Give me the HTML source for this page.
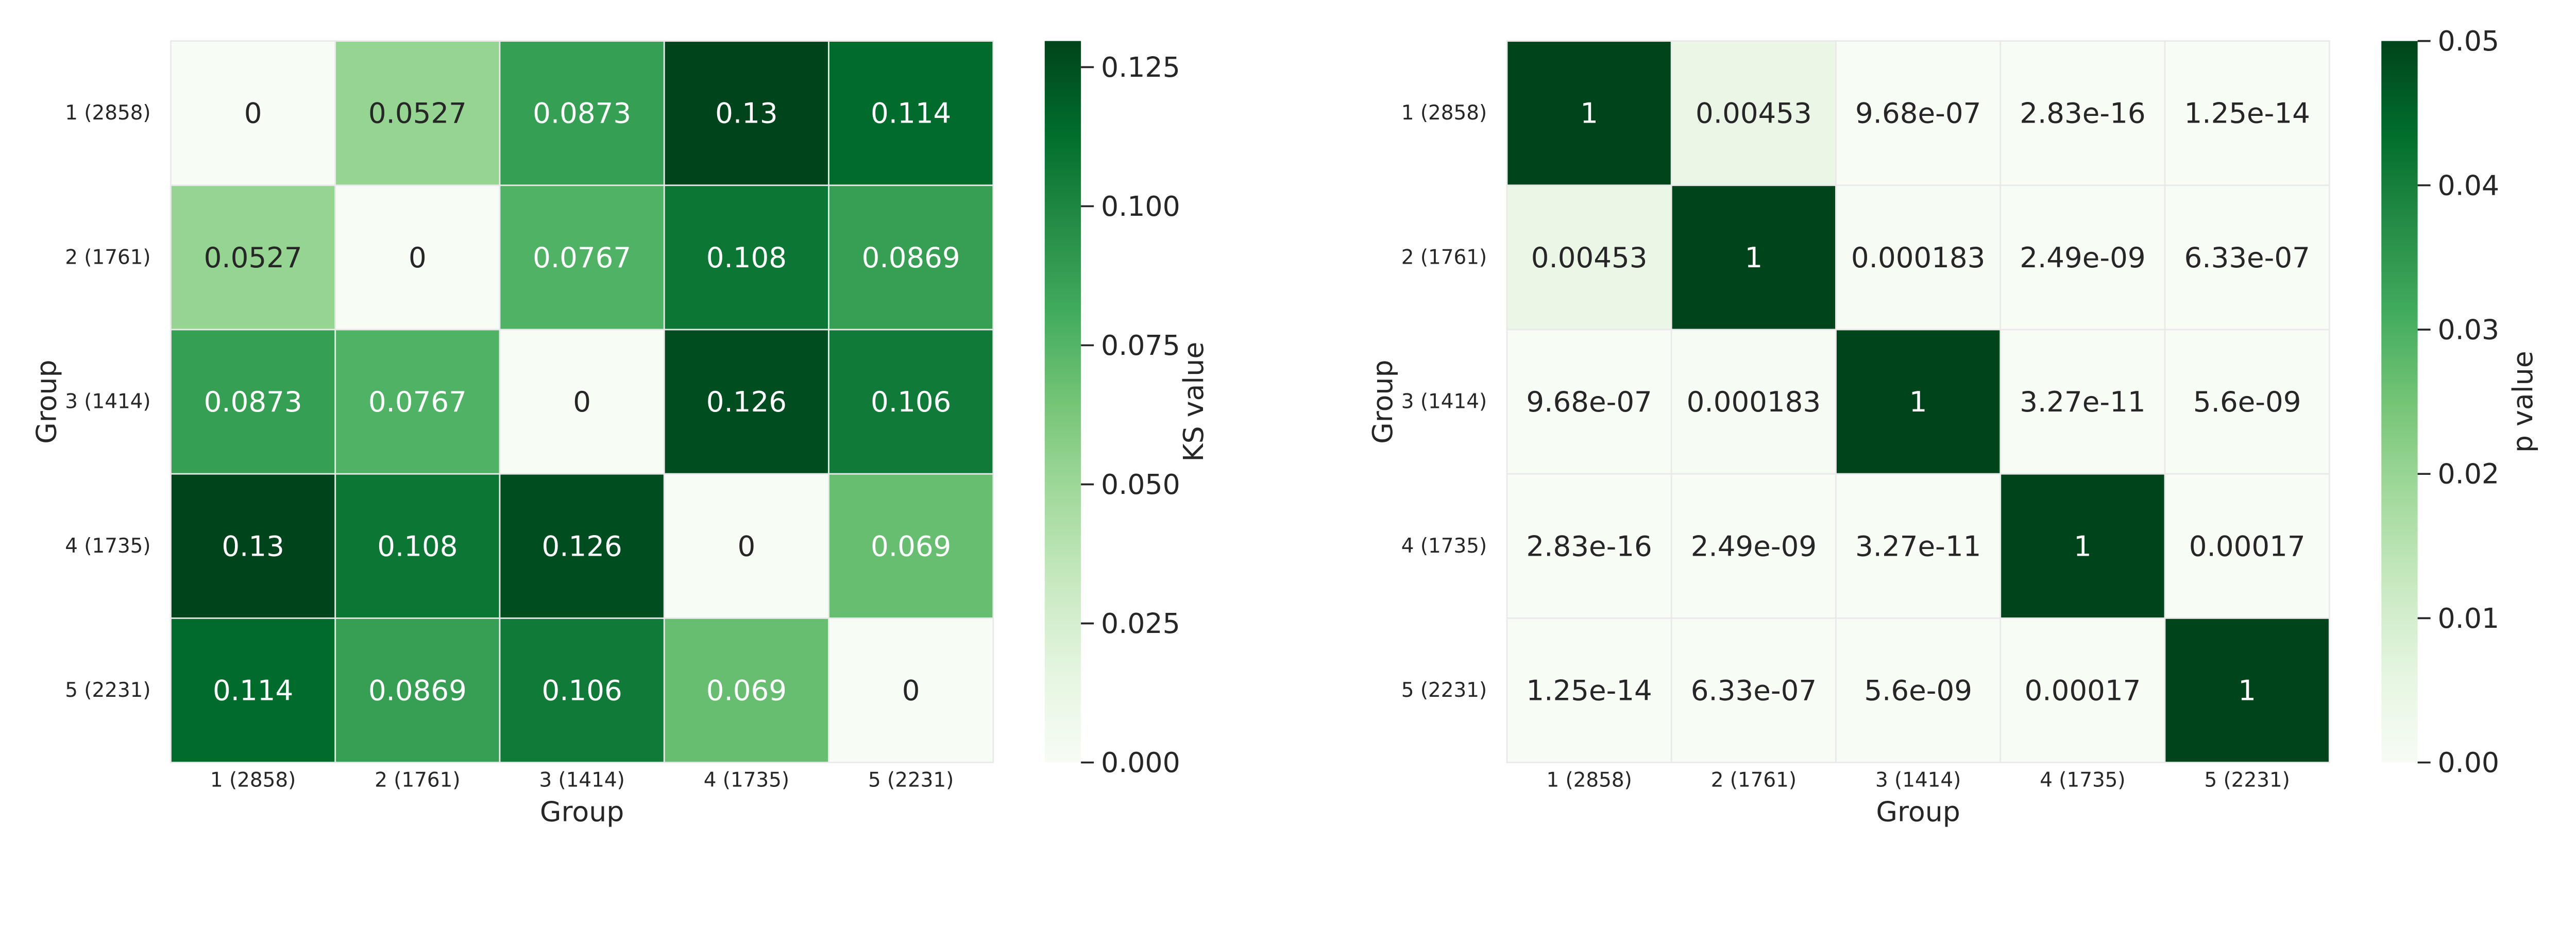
<!DOCTYPE html>
<html><head><meta charset="utf-8"><style>
html,body{margin:0;padding:0;background:#fff;width:100vw;height:100vh;overflow:hidden;}
svg{display:block;width:100vw;height:100vh;font-family:"DejaVu Sans","Liberation Sans",sans-serif;}
</style></head>
<body>
<svg id="fig" viewBox="0 0 5400 1800" preserveAspectRatio="xMidYMin meet" xmlns="http://www.w3.org/2000/svg">
<defs>
<linearGradient id="gradGreens" x1="0" y1="1" x2="0" y2="0">
<stop offset="0" stop-color="#f7fcf5"/><stop offset="0.125" stop-color="#e5f5e0"/><stop offset="0.25" stop-color="#c7e9c0"/><stop offset="0.375" stop-color="#a1d99b"/><stop offset="0.5" stop-color="#74c476"/><stop offset="0.625" stop-color="#41ab5d"/><stop offset="0.75" stop-color="#238b45"/><stop offset="0.875" stop-color="#006d2c"/><stop offset="1" stop-color="#00441b"/>
</linearGradient>
</defs>
</svg>
<script>
const groups = ["1 (2858)","2 (1761)","3 (1414)","4 (1735)","5 (2231)"];
const ksValues = [
 [0,0.0527,0.0873,0.1297,0.114],
 [0.0527,0,0.0767,0.108,0.0869],
 [0.0873,0.0767,0,0.126,0.106],
 [0.1297,0.108,0.126,0,0.069],
 [0.114,0.0869,0.106,0.069,0]
];
const ksLabels = [
 ["0","0.0527","0.0873","0.13","0.114"],
 ["0.0527","0","0.0767","0.108","0.0869"],
 ["0.0873","0.0767","0","0.126","0.106"],
 ["0.13","0.108","0.126","0","0.069"],
 ["0.114","0.0869","0.106","0.069","0"]
];
const pValues = [
 [1,0.00453,9.68e-07,2.83e-16,1.25e-14],
 [0.00453,1,0.000183,2.49e-09,6.33e-07],
 [9.68e-07,0.000183,1,3.27e-11,5.6e-09],
 [2.83e-16,2.49e-09,3.27e-11,1,0.00017],
 [1.25e-14,6.33e-07,5.6e-09,0.00017,1]
];
const pLabels = [
 ["1","0.00453","9.68e-07","2.83e-16","1.25e-14"],
 ["0.00453","1","0.000183","2.49e-09","6.33e-07"],
 ["9.68e-07","0.000183","1","3.27e-11","5.6e-09"],
 ["2.83e-16","2.49e-09","3.27e-11","1","0.00017"],
 ["1.25e-14","6.33e-07","5.6e-09","0.00017","1"]
];
const ksTicks = [0,0.025,0.05,0.075,0.1,0.125];
const ksTickLabels = ["0.000","0.025","0.050","0.075","0.100","0.125"];
const pTicks = [0,0.01,0.02,0.03,0.04,0.05];
const pTickLabels = ["0.00","0.01","0.02","0.03","0.04","0.05"];

const NS="http://www.w3.org/2000/svg";
const svg=document.getElementById('fig');
const stops=["#f7fcf5","#e5f5e0","#c7e9c0","#a1d99b","#74c476","#41ab5d","#238b45","#006d2c","#00441b"].map(h=>[1,3,5].map(i=>parseInt(h.substr(i,2),16)));
function cmap(t){t=Math.max(0,Math.min(1,t));const f=t*8;let i=Math.floor(f);if(i>=8)i=7;const r=f-i;const a=stops[i],b=stops[i+1];return a.map((v,k)=>Math.round(v+(b[k]-v)*r));}
function lum(c){const l=c.map(v=>{v/=255;return v<=0.03928?v/12.92:Math.pow((v+0.055)/1.055,2.4);});return 0.2126*l[0]+0.7152*l[1]+0.0722*l[2];}
function el(tag,attrs,parent){const e=document.createElementNS(NS,tag);for(const k in attrs)e.setAttribute(k,attrs[k]);(parent||svg).appendChild(e);return e;}

const plotTop=86,plotBottom=1599,H=plotBottom-plotTop,W=1724;
function heatmap(x0,vals,labels,vmax,ticks,tickLabels,cbx,cbLabel,cbLabelX,name){
  const g=el('g',{});
  
  
  const cw=W/5,ch=H/5;
  const xs=i=>x0+i*cw, ys=j=>plotTop+j*ch;
  for(let r=0;r<5;r++)for(let c=0;c<5;c++){
    const v=vals[r][c];const col=cmap(v/vmax);
    const rect=el('rect',{x:xs(c),y:ys(r),width:cw,height:ch,fill:`rgb(${col})`,stroke:'#e9e9e9','stroke-width':3},g);
    
    
    const t=el('text',{x:xs(c)+cw/2,y:ys(r)+ch/2,'text-anchor':'middle','dominant-baseline':'central','font-size':59,fill:lum(col)>0.45?'#262626':'#ffffff'},g);
    t.textContent=labels[r][c];
    
    
  }
  for(let i=0;i<5;i++){
    const tx=el('text',{x:xs(i)+cw/2,y:1636,'text-anchor':'middle','dominant-baseline':'central','font-size':42,fill:'#262626'},g);
    tx.textContent=groups[i];
    
    
    const ty=el('text',{x:x0-42,y:ys(i)+ch/2,'text-anchor':'end','dominant-baseline':'central','font-size':42,fill:'#262626'},g);
    ty.textContent=groups[i];
    
    
  }
  const xl=el('text',{x:x0+W/2,y:1722,'text-anchor':'middle','font-size':58,fill:'#262626'},g);
  xl.textContent='Group';
  
  
  const yx=x0-241;
  const yl=el('text',{x:yx,y:plotTop+H/2,'text-anchor':'middle','font-size':58,fill:'#262626',transform:`rotate(-90 ${yx} ${plotTop+H/2})`},g);
  yl.textContent='Group';
  
  
  const cb=el('rect',{x:cbx,y:plotTop,width:76,height:H,fill:'url(#gradGreens)'},g);
  
  
  const cy=v=>plotBottom-v/vmax*H;
  ticks.forEach((v,i)=>{
    const tl=el('line',{x1:cbx+76,x2:cbx+103,y1:cy(v),y2:cy(v),stroke:'#262626','stroke-width':4},g);
    
    
    const tt=el('text',{x:cbx+118,y:cy(v),'dominant-baseline':'central','font-size':58,fill:'#262626'},g);
    tt.textContent=tickLabels[i];
    
    
  });
  const cl=el('text',{x:cbLabelX,y:plotTop+H/2,'text-anchor':'middle','font-size':58,fill:'#262626',transform:`rotate(-90 ${cbLabelX} ${plotTop+H/2})`},g);
  cl.textContent=cbLabel;
  
  
}
heatmap(358,ksValues,ksLabels,0.1297,ksTicks,ksTickLabels,2190,'KS value',2522,'ks');
heatmap(3159,pValues,pLabels,0.05,pTicks,pTickLabels,4992,'p value',5308,'p');
</script>
</body></html>
